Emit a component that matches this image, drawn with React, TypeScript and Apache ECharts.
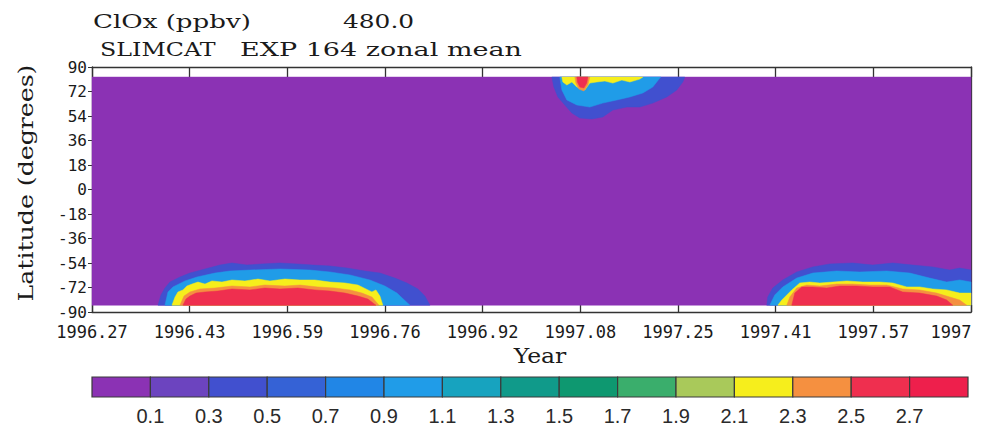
import React, { useEffect, useRef } from "react";
import * as echarts from "echarts";

// ---- tick labels ----
const xTickLabels = ["1996.27", "1996.43", "1996.59", "1996.76", "1996.92", "1997.08", "1997.25", "1997.41", "1997.57", "1997"];
const levelLabels = ["0.1", "0.3", "0.5", "0.7", "0.9", "1.1", "1.3", "1.5", "1.7", "1.9", "2.1", "2.3", "2.5", "2.7"];
const levelColors = [
  "#8b32b4", "#6c44bf", "#4150cf", "#3562d6", "#2186e6", "#209ce8", "#17a3bf", "#109a8a",
  "#0e9870", "#3aae6c", "#a9c95a", "#f6ee1c", "#f59040", "#ef2f4f", "#ee1f4c",
];

// ---- field: x in tick units (0 = 1996.27, 9 = right edge), y latitude ----
const fieldValue = 0.05;
const fieldOutline = [[0, -85], [9, -85], [9, 82.6], [0, 82.6]];

// Southern vortex 1996
const s1Outer = [[0.676, -85], [0.706, -77.5], [0.747, -72.4], [0.798, -68.0], [0.901, -64.3], [1.003, -61.4], [1.157, -58.4], [1.31, -55.5], [1.433, -54.0], [1.586, -55.5], [1.74, -54.7], [1.924, -54.0], [2.098, -54.7], [2.262, -55.5], [2.436, -56.2], [2.61, -57.7], [2.794, -59.9], [2.948, -61.4], [3.101, -65.1], [3.224, -68.7], [3.337, -73.1], [3.408, -78.3], [3.46, -85]];
const s1Blue = [[0.747, -85], [0.778, -75.3], [0.829, -71.6], [0.952, -67.2], [1.075, -64.3], [1.259, -61.4], [1.412, -59.9], [1.617, -59.2], [1.924, -58.4], [2.231, -59.2], [2.436, -60.6], [2.641, -62.8], [2.845, -66.5], [2.999, -70.9], [3.122, -76.1], [3.255, -85]];
const s1Yellow = [[0.819, -85], [0.85, -79.0], [0.88, -75.3], [0.931, -73.8], [0.972, -70.9], [1.024, -69.5], [1.085, -68.0], [1.157, -69.5], [1.228, -67.2], [1.331, -68.0], [1.433, -66.5], [1.566, -67.2], [1.699, -65.8], [1.822, -67.2], [1.975, -65.8], [2.129, -66.5], [2.282, -66.5], [2.436, -68.0], [2.59, -68.7], [2.723, -70.2], [2.805, -73.1], [2.866, -75.3], [2.907, -73.8], [2.948, -78.3], [2.978, -85]];
const s1Orange = [[0.901, -85], [0.942, -78.3], [1.003, -75.3], [1.105, -73.1], [1.259, -72.4], [1.433, -70.9], [1.617, -71.6], [1.771, -70.2], [1.975, -70.9], [2.129, -70.2], [2.313, -71.6], [2.487, -72.4], [2.641, -73.8], [2.764, -76.1], [2.866, -79.0], [2.938, -85]];
const s1Red = [[0.931, -85], [0.962, -80.5], [1.003, -78.3], [1.065, -76.1], [1.157, -75.3], [1.29, -74.6], [1.433, -73.1], [1.617, -73.8], [1.771, -72.4], [1.924, -73.1], [2.108, -72.4], [2.282, -73.8], [2.436, -74.6], [2.59, -76.1], [2.723, -78.3], [2.825, -80.5], [2.907, -85]];

// Northern event 1997
const nOuter = [[4.708, 82.6], [4.729, 75.3], [4.77, 68.0], [4.841, 62.1], [4.913, 56.2], [4.995, 52.5], [5.118, 51.8], [5.23, 53.3], [5.333, 58.4], [5.476, 60.6], [5.609, 60.6], [5.742, 63.5], [5.885, 68.0], [5.988, 73.1], [6.049, 79.0], [6.07, 82.6]];
const nBlue = [[4.79, 82.6], [4.811, 73.1], [4.862, 65.8], [4.964, 62.1], [5.097, 60.6], [5.23, 63.5], [5.374, 65.8], [5.507, 68.0], [5.64, 70.9], [5.742, 75.3], [5.814, 81.9], [5.824, 82.6]];
const nYellow = [[4.811, 82.6], [4.821, 79.0], [4.862, 76.8], [4.913, 79.0], [4.964, 75.3], [5.046, 73.1], [5.097, 78.2], [5.169, 79.0], [5.251, 79.7], [5.333, 78.2], [5.425, 80.4], [5.507, 79.0], [5.609, 81.1], [5.64, 82.6]];
const nOrange = [[4.944, 82.6], [4.954, 78.2], [4.985, 73.8], [5.036, 72.4], [5.077, 76.8], [5.097, 82.6]];
const nRed = [[4.964, 82.6], [4.97, 79.0], [4.995, 75.3], [5.036, 74.6], [5.066, 78.2], [5.077, 82.6]];

// Southern vortex 1997
const s2Outer = [[6.909, -85], [6.919, -79.0], [6.97, -72.4], [7.073, -66.5], [7.216, -60.6], [7.38, -56.9], [7.554, -54.7], [7.789, -54.0], [7.994, -55.5], [8.199, -54.0], [8.403, -55.5], [8.608, -56.9], [8.782, -59.2], [8.884, -57.7], [9.0, -59.2], [9.0, -85]];
const s2Blue = [[6.94, -85], [6.991, -77.5], [7.073, -71.6], [7.216, -65.1], [7.38, -61.4], [7.625, -59.9], [7.861, -60.6], [8.137, -59.9], [8.373, -61.4], [8.577, -65.1], [8.751, -68.0], [8.884, -66.5], [9.0, -68.0], [9.0, -85]];
const s2Yellow = [[7.022, -85], [7.063, -81.2], [7.114, -77.5], [7.165, -73.8], [7.247, -68.7], [7.349, -68.0], [7.452, -68.7], [7.585, -68.0], [7.728, -67.2], [7.892, -68.0], [8.066, -68.0], [8.199, -68.7], [8.342, -71.6], [8.475, -71.6], [8.608, -73.1], [8.751, -73.8], [8.884, -76.1], [9.0, -76.1], [9.0, -85]];
const s2Orange = [[7.114, -85], [7.145, -79.0], [7.216, -72.4], [7.318, -70.2], [7.452, -70.9], [7.625, -69.5], [7.789, -69.5], [7.963, -70.2], [8.137, -70.2], [8.301, -73.1], [8.475, -73.8], [8.649, -76.1], [8.782, -79.0], [8.884, -81.2], [8.956, -85]];
const s2Red = [[7.165, -85], [7.196, -76.1], [7.267, -71.6], [7.38, -71.6], [7.523, -72.4], [7.656, -70.9], [7.83, -70.9], [7.994, -71.6], [8.168, -71.6], [8.301, -75.3], [8.475, -76.1], [8.649, -78.3], [8.751, -81.2], [8.813, -85]];

type Contour = { v: number; pts: number[][] };
const contours: Contour[] = [
  { v: fieldValue, pts: fieldOutline },
  { v: 0.4, pts: s1Outer }, { v: 1.0, pts: s1Blue }, { v: 2.2, pts: s1Yellow }, { v: 2.4, pts: s1Orange }, { v: 2.6, pts: s1Red },
  { v: 0.4, pts: nOuter }, { v: 1.0, pts: nBlue }, { v: 2.2, pts: nYellow }, { v: 2.4, pts: nOrange }, { v: 2.6, pts: nRed },
  { v: 0.4, pts: s2Outer }, { v: 1.0, pts: s2Blue }, { v: 2.2, pts: s2Yellow }, { v: 2.4, pts: s2Orange }, { v: 2.6, pts: s2Red },
];

function valueToBox(v: number): number {
  if (v < 0.1) return 0;
  return Math.min(14, Math.floor((v - 0.1) / 0.2 + 1e-9) + 1);
}

const SERIF = "'DejaVu Serif', serif";
const MONO = "'DejaVu Sans Mono', monospace";

function titleText(text: string, x: number, y: number, size: number, sx: number, rotation = 0, align = "left") {
  return {
    type: "text",
    x, y, rotation, scaleX: sx, silent: true,
    style: {
      text, font: `${size}px ${SERIF}`, fill: "#1a1a1a",
      align, textAlign: align, verticalAlign: "middle", textVerticalAlign: "middle",
    },
  };
}

export default function App() {
  const ref = useRef<HTMLDivElement>(null);
  useEffect(() => {
    if (!ref.current) return;
    const chart = echarts.init(ref.current, null, { renderer: "svg" });
    const axisColor = "#333";
    chart.setOption({
      animation: false,
      backgroundColor: "#ffffff",
      grid: [
        { left: 92, top: 67, width: 879, height: 245 },
        { left: 92, top: 377, width: 876, height: 20 },
      ],
      xAxis: [
        {
          type: "value", gridIndex: 0, position: "bottom", min: 0, max: 9, interval: 1,
          axisLine: { show: true, onZero: false, lineStyle: { color: axisColor, width: 1.3 } },
          axisTick: { show: true, inside: true, length: 7, lineStyle: { color: axisColor, width: 1.3 } },
          splitLine: { show: false },
          axisLabel: {
            margin: 11, fontFamily: MONO, fontSize: 17, color: "#1a1a1a",
            showMinLabel: true, showMaxLabel: true,
            formatter: (v: number) => {
              const i = Math.round(v);
              if (i === 9) return "{r|" + xTickLabels[i] + "}";
              return xTickLabels[i] ?? "";
            },
            rich: { r: { fontFamily: MONO, fontSize: 17, color: "#1a1a1a", padding: [0, 40, 0, 0] } },
          },
        },
        {
          type: "value", gridIndex: 0, position: "top", min: 0, max: 9, interval: 1,
          axisLine: { show: true, onZero: false, lineStyle: { color: axisColor, width: 1.3 } },
          axisTick: { show: true, inside: true, length: 10, lineStyle: { color: axisColor, width: 1.3 } },
          splitLine: { show: false },
          axisLabel: { show: false },
        },
        {
          type: "value", gridIndex: 1, min: 0, max: 15, interval: 1,
          axisLine: { show: false, onZero: false }, axisTick: { show: false }, splitLine: { show: false },
          axisLabel: {
            margin: 9, fontFamily: "'Liberation Sans', Arial, sans-serif", fontSize: 20, color: "#2a2a2a",
            formatter: (v: number) => {
              const i = Math.round(v);
              return i >= 1 && i <= 14 ? levelLabels[i - 1] : "";
            },
          },
        },
      ],
      yAxis: [
        {
          type: "value", gridIndex: 0, position: "left", min: -90, max: 90, interval: 18,
          axisLine: { show: true, onZero: false, lineStyle: { color: axisColor, width: 1.3 } },
          axisTick: { show: true, inside: false, length: 4, lineStyle: { color: axisColor } },
          splitLine: { show: false },
          axisLabel: { margin: 5, fontFamily: MONO, fontSize: 16, color: "#1a1a1a" },
        },
        {
          type: "value", gridIndex: 0, position: "right", min: -90, max: 90, interval: 18,
          axisLine: { show: true, onZero: false, lineStyle: { color: axisColor, width: 1.3 } },
          axisTick: { show: false }, axisLabel: { show: false }, splitLine: { show: false },
        },
        {
          type: "value", gridIndex: 1, min: 0, max: 1, show: false,
          axisLine: { onZero: false },
        },
      ],
      series: [
        {
          type: "custom",
          xAxisIndex: 0, yAxisIndex: 0,
          silent: true,
          data: contours.map((c, i) => [c.pts[0][0], c.pts[0][1], c.v, i]),
          encode: { x: 0, y: 1 },
          renderItem: (params: any, api: any) => {
            const c = contours[params.dataIndex];
            const points = c.pts.map((p) => api.coord(p));
            const col = levelColors[valueToBox(c.v)];
            return { type: "polygon", shape: { points }, style: { fill: col, stroke: col, lineWidth: 0.5 } };
          },
        },
        {
          type: "custom",
          xAxisIndex: 2, yAxisIndex: 2,
          silent: true,
          data: levelColors.map((_, k) => [k, 0, k]),
          encode: { x: 0, y: 1 },
          renderItem: (params: any, api: any) => {
            const k = params.dataIndex;
            const p0 = api.coord([k, 1]);
            const p1 = api.coord([k + 1, 0]);
            return {
              type: "rect",
              shape: { x: p0[0], y: p0[1], width: p1[0] - p0[0], height: p1[1] - p0[1] },
              style: { fill: levelColors[k], stroke: "#3a3a3a", lineWidth: 1.2 },
            };
          },
        },
      ],
      graphic: [
        titleText("ClOx (ppbv)", 93, 22, 18, 1.45),
        titleText("480.0", 343, 22, 18, 1.38),
        titleText("SLIMCAT", 100, 50, 18, 1.32),
        titleText("EXP 164 zonal mean", 240, 50, 18, 1.5),
        titleText("Latitude (degrees)", 26, 183, 20, 1.26, Math.PI / 2, "center"),
        titleText("Year", 540, 355, 21, 1.12, 0, "center"),
      ],
    });
    return () => chart.dispose();
  }, []);
  return (
    <div
      ref={ref}
      style={{ position: "fixed", left: 0, top: 0, width: 997, height: 433, background: "#fff" }}
    />
  );
}
